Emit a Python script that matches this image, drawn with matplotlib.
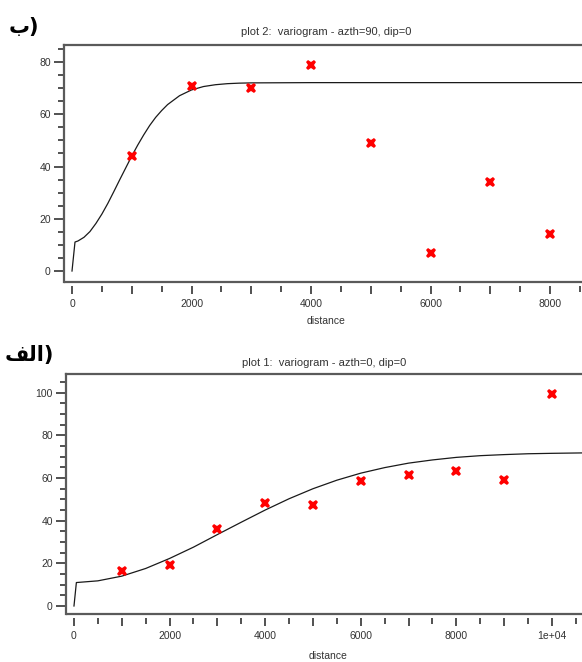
import matplotlib
matplotlib.use('Agg')
import matplotlib.pyplot as plt
from matplotlib.ticker import MultipleLocator, FuncFormatter

# plot 2: azth=90 (نمودار بالا)
lag_top = [1000, 2000, 3000, 4000, 5000, 6000, 7000, 8000]
gamma_top = [44, 71, 70, 79, 49, 7, 34, 14]
model_h_top = [0, 50, 100, 200, 300, 400, 500, 600, 700, 800, 900, 1000, 1100, 1200,
               1300, 1400, 1500, 1600, 1800, 2000, 2200, 2400, 2600, 2800, 3000, 4000,
               5000, 6000, 7000, 8000, 9000]
model_top = [0, 11.1, 11.5, 12.9, 15.1, 18.2, 21.8, 25.9, 30.4, 35.0, 39.5, 44.0, 48.2, 52.1,
             55.7, 58.8, 61.4, 63.7, 67.1, 69.3, 70.6, 71.3, 71.7, 71.9, 72.0, 72.1,
             72.1, 72.1, 72.1, 72.1, 72.1]

# plot 1: azth=0 (نمودار پایین)
lag_bot = [1000, 2000, 3000, 4000, 5000, 6000, 7000, 8000, 9000, 10000]
gamma_bot = [16.5, 19, 36, 48.5, 47.5, 58.5, 61.5, 63.5, 59, 99.5]
model_h_bot = [0, 50, 500, 1000, 1500, 2000, 2500, 3000, 3500, 4000, 4500, 5000, 5500,
               6000, 6500, 7000, 7500, 8000, 8500, 9000, 9500, 10000, 11000]
model_bot = [0, 11.0, 11.8, 14.0, 17.6, 22.3, 27.6, 33.5, 39.3, 45.0, 50.3, 55.0, 59.0,
             62.3, 64.9, 67.0, 68.5, 69.7, 70.5, 71.0, 71.4, 71.6, 71.9]

W, H = 582, 662
FRAME = '#5a5a5a'
TICK = '#222222'
TXT = '#333333'
FONT = ['Liberation Sans', 'DejaVu Sans']


def fx(px):
    return px / W


def fy(py):
    return 1 - py / H


def tick_label(v, pos):
    if v % 2000 != 0:
        return ''
    if v >= 10000:
        return '1e+04'
    return f'{int(v)}'


def draw_panel(fig, rect, xlim, ylim, lags, gammas, mh, mg):
    ax = fig.add_axes(rect)
    ax.plot(mh, mg, color='#1a1a1a', lw=0.9, zorder=2)
    ax.plot(lags, gammas, linestyle='none', marker='X', ms=7.5, color='red',
            markeredgewidth=0, zorder=3)
    ax.set_xlim(*xlim)
    ax.set_ylim(*ylim)

    # قاب: فقط بالا و چپ؛ خط پایین جدا از تیک‌ها
    for side in ('top', 'left'):
        ax.spines[side].set_color(FRAME)
        ax.spines[side].set_linewidth(1.6)
    ax.spines['right'].set_visible(False)
    ax.spines['bottom'].set_position(('outward', 3))
    ax.spines['bottom'].set_visible(False)
    ax.plot([0, 1], [0, 0], transform=ax.transAxes, clip_on=False,
            color=FRAME, lw=1.6, solid_capstyle='butt')

    ax.xaxis.set_major_locator(MultipleLocator(1000))
    ax.xaxis.set_minor_locator(MultipleLocator(500))
    ax.xaxis.set_major_formatter(FuncFormatter(tick_label))
    ax.yaxis.set_major_locator(MultipleLocator(20))
    ax.yaxis.set_minor_locator(MultipleLocator(5))

    ax.tick_params(axis='both', which='major', color=TICK, width=1.1,
                   labelcolor=TXT, labelsize=7.5)
    ax.tick_params(axis='x', which='major', length=6, pad=3)
    ax.tick_params(axis='x', which='minor', length=4, width=1.1, color=TICK)
    ax.tick_params(axis='y', which='major', length=7.5, pad=2)
    ax.tick_params(axis='y', which='minor', length=4, width=1.1, color=TICK)
    for lab in ax.get_xticklabels() + ax.get_yticklabels():
        lab.set_family(FONT)
    return ax


fig = plt.figure(figsize=(W / 100, H / 100), dpi=100)

# نمودار بالا (plot 2)
draw_panel(fig, [fx(64), fy(282), fx(533.8), 237 / H],
           (-134, 8800), (-4.2, 86.5),
           lag_top, gamma_top, model_h_top, model_top)
fig.text(fx(326), fy(32), 'plot 2:  variogram - azth=90, dip=0', ha='center', va='center',
         fontsize=8, color=TXT, family=FONT)
fig.text(fx(326), fy(321), 'distance', ha='center', va='center',
         fontsize=7.5, color=TXT, family=FONT)
fig.text(fx(9), fy(27), '\uFE8F)', ha='left', va='center', fontsize=15,
         fontweight='bold', family=['DejaVu Sans'])

# نمودار پایین (plot 1)
draw_panel(fig, [fx(66), fy(614), fx(524.2), 240 / H],
           (-167, 10800), (-3.75, 108.8),
           lag_bot, gamma_bot, model_h_bot, model_bot)
fig.text(fx(324), fy(363), 'plot 1:  variogram - azth=0, dip=0', ha='center', va='center',
         fontsize=8, color=TXT, family=FONT)
fig.text(fx(328), fy(656), 'distance', ha='center', va='center',
         fontsize=7.5, color=TXT, family=FONT)
fig.text(fx(5), fy(355), '\uFED2\uFEDF\uFE8D)', ha='left', va='center', fontsize=15,
         fontweight='bold', family=['DejaVu Sans'])

plt.savefig('out.png', dpi=100)
plt.close()
